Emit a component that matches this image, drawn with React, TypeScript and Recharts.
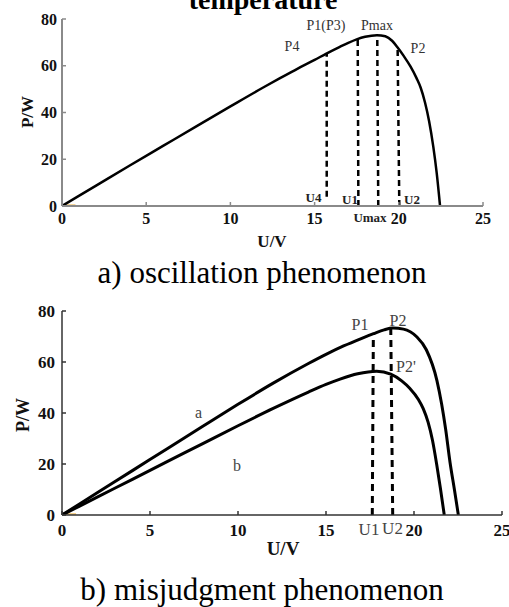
import React from "react";
import { LineChart, Line, XAxis, YAxis } from "recharts";

// ---------- data ----------
const xTicks = [0, 5, 10, 15, 20, 25];
const yTicks = [0, 20, 40, 60, 80];

// a) oscillation phenomenon: P-U curve
const topU = [0, 2, 4, 6, 8, 10, 12, 13, 14, 15, 15.7, 16.5, 17, 17.5, 18, 18.7, 19.2, 19.6, 19.93, 20.3, 20.7, 21.06, 21.3, 21.56, 21.8, 22.05, 22.25, 22.45];
const topP = [0, 8.6, 17.2, 25.7, 34.2, 42.6, 50.9, 54.9, 58.8, 62.5, 65.2, 68.1, 69.8, 71.3, 72.4, 73.1, 72.6, 70.7, 67.8, 64.1, 59.6, 54.6, 50.6, 44.2, 36.3, 25.3, 14.2, 0];

// dashed guide lines (U, P) pairs: bottom -> top
const topU4 = [[15.72, 4], [15.72, 65.3]];
const topU1 = [[17.6, 0], [17.56, 71.5]];
const topUmax = [[18.78, 0], [18.72, 73.1]];
const topU2 = [[20.03, 0], [19.93, 67.8]];
const originMark = [[0, 0.4], [0.8, 0.4]];

// b) misjudgment phenomenon: curves a and b
const aU = [0, 2, 4, 6, 8, 10, 12, 14, 15, 16, 17, 17.7, 18.3, 18.8, 19.4, 20.15, 20.7, 21.3, 21.57, 21.8, 22.05, 22.3, 22.52];
const aP = [0, 8.7, 17.4, 26.1, 34.8, 43.4, 51.7, 59.4, 63.0, 66.3, 69.2, 71.1, 72.6, 73.3, 72.9, 69.9, 64.8, 52.8, 43.5, 33.5, 20.5, 9.8, 0];
const bU = [0, 2, 4, 6, 8, 10, 12, 14, 15, 15.8, 16.8, 17.88, 18.68, 19.3, 19.77, 20.25, 20.53, 20.8, 21.05, 21.29, 21.5, 21.72];
const bP = [0, 7, 14, 21, 28, 35, 41.8, 48.2, 51.2, 53.3, 55.4, 56.4, 55.2, 52.6, 49.6, 45.3, 41.6, 36.4, 29.3, 19.8, 10.5, 0];
const botU1 = [[17.63, 0], [17.69, 71.0]];
const botU2 = [[18.79, 0], [18.68, 73.3]];

// ---------- helpers ----------
const toPts = (us: number[], ps: number[]) => us.map((u, i) => ({ x: u, y: ps[i] }));
const pairPts = (arr: number[][]) => arr.map(([u, p]) => ({ x: u, y: p }));

const SERIF = "'Liberation Serif', 'Times New Roman', serif";

const makeXTick = (fs: number, off: number, color: string) => (props: any) => {
  const { x, y, payload } = props;
  return (
    <g>
      <line x1={x} y1={y} x2={x} y2={y - 4} stroke={color} strokeWidth={1.5} />
      <text x={x} y={y + off} textAnchor="middle" fontWeight="bold" fontSize={fs} fontFamily={SERIF} fill="#111">
        {payload.value}
      </text>
    </g>
  );
};

const makeYTick = (fs: number, off: number, color: string) => (props: any) => {
  const { x, y, payload } = props;
  return (
    <g>
      <line x1={x} y1={y} x2={x + 4} y2={y} stroke={color} strokeWidth={1.5} />
      <text x={x - off} y={y} dy="0.35em" textAnchor="end" fontWeight="bold" fontSize={fs} fontFamily={SERIF} fill="#111">
        {payload.value}
      </text>
    </g>
  );
};

const topData = toPts(topU, topP);
const aData = toPts(aU, aP);
const bData = toPts(bU, bP);

export default function App() {
  const topAxis = "#8a8a8a";
  const botAxis = "#333";
  return (
    <div style={{ position: "fixed", left: 0, top: 0, width: 509, height: 607, overflow: "hidden", background: "#fff" }}>
      <div style={{ position: "absolute", left: 0, top: 0 }}>
        <LineChart width={509} height={246} margin={{ top: 19, right: 26, bottom: 0, left: 0 }}>
          <XAxis type="number" dataKey="x" domain={[0, 25]} ticks={xTicks} interval={0} height={40}
            tickSize={0} tickMargin={0} tickLine={false} axisLine={{ stroke: topAxis, strokeWidth: 2 }}
            tick={makeXTick(16, 18, topAxis)} allowDataOverflow />
          <YAxis type="number" domain={[0, 80]} ticks={yTicks} interval={0} width={62}
            tickSize={0} tickMargin={0} tickLine={false} axisLine={{ stroke: topAxis, strokeWidth: 2 }}
            tick={makeYTick(16, 5, topAxis)} allowDataOverflow />
          <Line data={pairPts(originMark)} dataKey="y" type="linear" stroke="#f2c46a" strokeWidth={1.5} dot={false} isAnimationActive={false} />
          <Line data={topData} dataKey="y" type="monotone" stroke="#000" strokeWidth={2.5} dot={false} isAnimationActive={false} />
          <Line data={pairPts(topU4)} dataKey="y" type="linear" stroke="#000" strokeWidth={2.5} strokeDasharray="6 4" dot={false} isAnimationActive={false} />
          <Line data={pairPts(topU1)} dataKey="y" type="linear" stroke="#000" strokeWidth={2.5} strokeDasharray="6 4" dot={false} isAnimationActive={false} />
          <Line data={pairPts(topUmax)} dataKey="y" type="linear" stroke="#000" strokeWidth={2.5} strokeDasharray="6 4" dot={false} isAnimationActive={false} />
          <Line data={pairPts(topU2)} dataKey="y" type="linear" stroke="#000" strokeWidth={2.5} strokeDasharray="6 4" dot={false} isAnimationActive={false} />
        </LineChart>
      </div>
      <div style={{ position: "absolute", left: 0, top: 300 }}>
        <LineChart width={509} height={255} margin={{ top: 11, right: 7, bottom: 0, left: 0 }}>
          <XAxis type="number" dataKey="x" domain={[0, 25]} ticks={xTicks} interval={0} height={40}
            tickSize={0} tickMargin={0} tickLine={false} axisLine={{ stroke: botAxis, strokeWidth: 1.5 }}
            tick={makeXTick(17, 21, botAxis)} allowDataOverflow />
          <YAxis type="number" domain={[0, 80]} ticks={yTicks} interval={0} width={62}
            tickSize={0} tickMargin={0} tickLine={false} axisLine={{ stroke: botAxis, strokeWidth: 1.5 }}
            tick={makeYTick(17, 7, botAxis)} allowDataOverflow />
          <Line data={pairPts(originMark)} dataKey="y" type="linear" stroke="#f2c46a" strokeWidth={1.5} dot={false} isAnimationActive={false} />
          <Line data={aData} dataKey="y" type="monotone" stroke="#000" strokeWidth={3} dot={false} isAnimationActive={false} />
          <Line data={bData} dataKey="y" type="monotone" stroke="#000" strokeWidth={3} dot={false} isAnimationActive={false} />
          <Line data={pairPts(botU1)} dataKey="y" type="linear" stroke="#000" strokeWidth={3} strokeDasharray="7 5" dot={false} isAnimationActive={false} />
          <Line data={pairPts(botU2)} dataKey="y" type="linear" stroke="#000" strokeWidth={3} strokeDasharray="7 5" dot={false} isAnimationActive={false} />
        </LineChart>
      </div>
      <svg width={509} height={607} style={{ position: "absolute", left: 0, top: 0, pointerEvents: "none" }} fontFamily={SERIF}>
        <text x={263} y={9} textAnchor="middle" fontWeight="bold" fontSize={28} fill="#000">temperature</text>
        {/* top chart labels */}
        <text x={292} y={51} textAnchor="middle" fontSize={14} fill="#333">P4</text>
        <text x={326} y={30} textAnchor="middle" fontSize={14} fill="#333">P1(P3)</text>
        <text x={377} y={30} textAnchor="middle" fontSize={14} fill="#333">Pmax</text>
        <text x={418} y={53} textAnchor="middle" fontSize={14} fill="#333">P2</text>
        <text x={313.5} y={202} textAnchor="middle" fontSize={13} fontWeight="bold" fill="#222">U4</text>
        <text x={350} y={204} textAnchor="middle" fontSize={13} fontWeight="bold" fill="#222">U1</text>
        <text x={370} y={222} textAnchor="middle" fontSize={13} fontWeight="bold" fill="#222">Umax</text>
        <text x={412} y={204} textAnchor="middle" fontSize={13} fontWeight="bold" fill="#222">U2</text>
        <text x={272} y={247} textAnchor="middle" fontSize={17} fontWeight="bold" fill="#111">U/V</text>
        <text transform="translate(33,112) rotate(-90)" textAnchor="middle" fontSize={17} fontWeight="bold" fill="#111">P/W</text>
        <text x={262} y={283} textAnchor="middle" fontSize={31} fill="#000">a) oscillation phenomenon</text>
        {/* bottom chart labels */}
        <text x={360} y={330} textAnchor="middle" fontSize={16} fill="#444">P1</text>
        <text x={398} y={326} textAnchor="middle" fontSize={16} fill="#444">P2</text>
        <text x={396} y={372} textAnchor="start" fontSize={16} fill="#444">P2'</text>
        <text x={198.5} y={418} textAnchor="middle" fontSize={16} fill="#444">a</text>
        <text x={237} y={471} textAnchor="middle" fontSize={16} fill="#444">b</text>
        <text x={369} y={535} textAnchor="middle" fontSize={17} fill="#444">U1</text>
        <text x={392.5} y={534} textAnchor="middle" fontSize={17} fill="#444">U2</text>
        <text x={283} y={555} textAnchor="middle" fontSize={19} fontWeight="bold" fill="#111">U/V</text>
        <text transform="translate(29,415) rotate(-90)" textAnchor="middle" fontSize={18} fontWeight="bold" fill="#111">P/W</text>
        <text x={262} y={600} textAnchor="middle" fontSize={31} fill="#000">b) misjudgment phenomenon</text>
      </svg>
    </div>
  );
}
